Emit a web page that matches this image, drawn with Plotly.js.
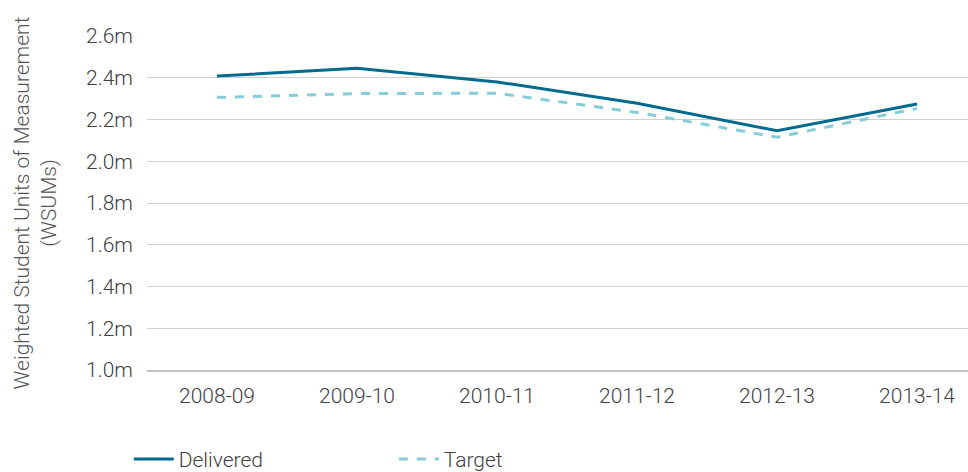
<!DOCTYPE html>
<html>
<head>
<meta charset="utf-8">
<script src="https://cdn.plot.ly/plotly-3.0.1.min.js"></script>
<style>html,body{margin:0;padding:0;background:#fff;}#chart{width:968px;height:472px;}</style>
</head>
<body>
<div id="chart"></div>
<script>
const years = ["2008-09", "2009-10", "2010-11", "2011-12", "2012-13", "2013-14"];
const delivered = [2.408, 2.445, 2.380, 2.278, 2.146, 2.274];
const target = [2.306, 2.324, 2.326, 2.234, 2.115, 2.253];
const yTickVals = [1.0, 1.2, 1.4, 1.6, 1.8, 2.0, 2.2, 2.4, 2.6];
const yTickText = ["1.0m", "1.2m", "1.4m", "1.6m", "1.8m", "2.0m", "2.2m", "2.4m", "2.6m"];

const traces = [
  {x: years, y: delivered, name: "Delivered", type: "scatter", mode: "lines",
   line: {color: "#006a8f", width: 3}},
  {x: years, y: target, name: "Target", type: "scatter", mode: "lines",
   line: {color: "#85cdd8", width: 3, dash: "dash"}}
];

const layout = {
  width: 968, height: 472,
  margin: {l: 147, r: 0, t: 36, b: 102},
  paper_bgcolor: "#fff", plot_bgcolor: "#fff",
  font: {family: "Roboto, 'Liberation Sans', sans-serif", size: 21, color: "#404040", weight: 300},
  showlegend: true,
  legend: {orientation: "h", xref: "container", yref: "container", x: 0.133, y: 0.07,
           xanchor: "left", yanchor: "top", itemwidth: 40, entrywidth: 210, entrywidthmode: "pixels",
           font: {size: 21, color: "#404040", weight: 300}, bgcolor: "rgba(0,0,0,0)"},
  xaxis: {type: "category", range: [-0.5, 5.364], showgrid: false, zeroline: false,
          showline: true, linecolor: "#c4c4c4", linewidth: 2, ticks: "",
          ticklabelstandoff: 6, fixedrange: true},
  yaxis: {range: [1.0, 2.6], tickvals: yTickVals, ticktext: yTickText,
          showgrid: true, gridcolor: "#cfcfcf", gridwidth: 1, zeroline: false,
          showline: false, ticks: "", ticklabelstandoff: 13,
          title: {text: "Weighted Student Units of Measurement<br>(WSUMs)", standoff: 23,
                  font: {size: 21, color: "#555", weight: 300}}}
};

Plotly.newPlot("chart", traces, layout, {displayModeBar: false, staticPlot: true});
</script>
</body>
</html>
